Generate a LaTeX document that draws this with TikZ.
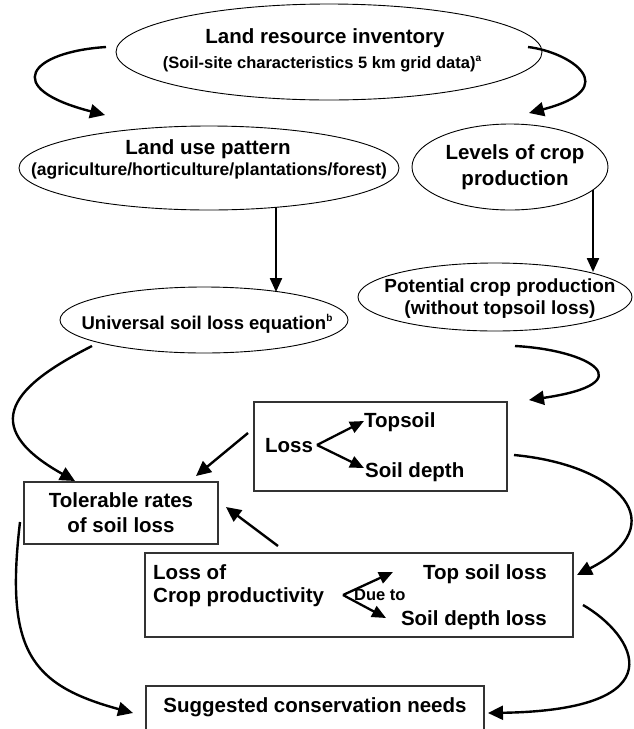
\documentclass[tikz,border=0pt]{standalone}
\usepackage{fontspec}
\setmainfont{Liberation Sans}
\usetikzlibrary{arrows.meta,shapes.geometric}
\begin{document}
\begin{tikzpicture}[x=1pt,y=-1pt,
  oval/.style={draw,ellipse,line width=0.9pt,inner sep=0pt},
  boxed/.style={draw=black!80,line width=1.2pt,inner sep=0pt},
  big/.style={inner sep=0pt,font=\bfseries\fontsize{20.5}{22}\selectfont,text height=14.7pt,text depth=0pt},
  pot/.style={inner sep=0pt,font=\bfseries\fontsize{19}{21}\selectfont,text height=13.6pt,text depth=0pt},
  mid/.style={inner sep=0pt,font=\bfseries\fontsize{18.5}{20}\selectfont,text height=13.2pt,text depth=0pt},
  agri/.style={inner sep=0pt,font=\bfseries\fontsize{17.5}{19}\selectfont,text height=12.5pt,text depth=0pt},
  small/.style={inner sep=0pt,font=\bfseries\fontsize{16.5}{18}\selectfont,text height=11.8pt,text depth=0pt},
  arr/.style={line width=2.4pt,-{Triangle[length=15pt,width=14pt]}},
  sarr/.style={line width=2.3pt,-{Triangle[length=14pt,width=12pt]}}]
\useasboundingbox (0,0) rectangle (633,729);
\fill[white] (0,0) rectangle (633,729);

% shapes
\node[oval,minimum width=426pt,minimum height=96pt] (e1) at (329,52) {};
\node[oval,minimum width=380pt,minimum height=84pt] (e2) at (209,168) {};
\node[oval,minimum width=196pt,minimum height=86pt] (e3) at (510,167) {};
\node[oval,minimum width=288pt,minimum height=66pt] (e4) at (204,320) {};
\node[oval,minimum width=274pt,minimum height=68pt] (e5) at (495,297) {};
\node[boxed,minimum width=253pt,minimum height=89pt] (loss) at (380.5,446.5) {};
\node[boxed,minimum width=194pt,minimum height=62pt] (tol) at (121,513) {};
\node[boxed,minimum width=428pt,minimum height=84pt] (crop) at (359,595) {};
\node[boxed,minimum width=338pt,minimum height=74pt] (sug) at (315,723) {};

% texts
\node[big] (t1) at (325,36) {Land resource inventory};
\node[small] (t1b) at (322,63) {(Soil-site characteristics 5 km grid data)\raisebox{7pt}{\fontsize{10}{10}\selectfont a}};
\node[big] (t2) at (208,147) {Land use pattern};
\node[agri] (t2b) at (209,169) {(agriculture/horticulture/plantations/forest)};
\node[big] (t3) at (515,152) {Levels of crop};
\node[big] (t3b) at (515,178) {production};
\node[mid] (t4) at (207,323) {Universal soil loss equation\raisebox{8pt}{\fontsize{10}{10}\selectfont b}};
\node[pot] (t5) at (500,286) {Potential crop production};
\node[pot] (t5b) at (500,308) {(without topsoil loss)};
\node[big] (l1) at (289,445) {Loss};
\node[big,anchor=west] (l2) at (364,420) {Topsoil};
\node[big,anchor=west] (l3) at (365,470) {Soil depth};
\node[big] (r1) at (121,500) {Tolerable rates};
\node[big] (r2) at (121,525) {of soil loss};
\node[big,anchor=west] (c1) at (153,572) {Loss of};
\node[big,anchor=west] (c2) at (153,595) {Crop productivity};
\node[big,anchor=east] (c3) at (547,572) {Top soil loss};
\node[small,anchor=west] (c4) at (354,595) {Due to};
\node[big,anchor=east] (c5) at (547,618) {Soil depth loss};
\node[big] (s1) at (315,705) {Suggested conservation needs};

% connector end points
\coordinate (a1s) at (106,47);  \coordinate (a1e) at (105,115);
\coordinate (a2s) at (528,47);  \coordinate (a2e) at (529,113);
\coordinate (a3s) at (276,207); \coordinate (a3e) at (276,292);
\coordinate (a4s) at (593,190); \coordinate (a4e) at (593,272);
\coordinate (a5s) at (92,346);  \coordinate (a5e) at (75,481);
\coordinate (a6s) at (515,346); \coordinate (a6e) at (529,400);
\coordinate (a7s) at (248,433); \coordinate (a7e) at (196,476);
\coordinate (a8s) at (278,546); \coordinate (a8e) at (226,507);
\coordinate (a9s) at (514,455); \coordinate (a9e) at (577,575);
\coordinate (a10s) at (20,522); \coordinate (a10e) at (133,713);
\coordinate (a11s) at (583,605); \coordinate (a11e) at (488,713);
\coordinate (f1) at (317,445);  \coordinate (f1a) at (364,421); \coordinate (f1b) at (364,468);
\coordinate (f2) at (343,595);  \coordinate (f2a) at (393,572); \coordinate (f2b) at (386,618);

\draw[arr] (a1s) .. controls (30,52) and (0,88) .. (a1e);
\draw[arr] (a2s) .. controls (570,52) and (625,88) .. (a2e);
\draw[sarr] (a3s) -- (a3e);
\draw[sarr] (a4s) -- (a4e);
\draw[arr] (a5s) .. controls (15,385) and (-25,425) .. (a5e);
\draw[arr] (a6s) .. controls (590,350) and (645,383) .. (a6e);
\draw[arr] (a7s) -- (a7e);
\draw[arr] (a8s) -- (a8e);
\draw[arr] (a9s) .. controls (620,465) and (675,525) .. (a9e);
\draw[arr] (a10s) .. controls (5,650) and (30,685) .. (a10e);
\draw[arr] (a11s) .. controls (635,635) and (680,710) .. (a11e);

% inner forks
\draw[sarr] (f1) -- (f1a);
\draw[sarr] (f1) -- (f1b);
\draw[sarr] (f2) -- (f2a);
\draw[sarr] (f2) -- (f2b);
\end{tikzpicture}
\end{document}
